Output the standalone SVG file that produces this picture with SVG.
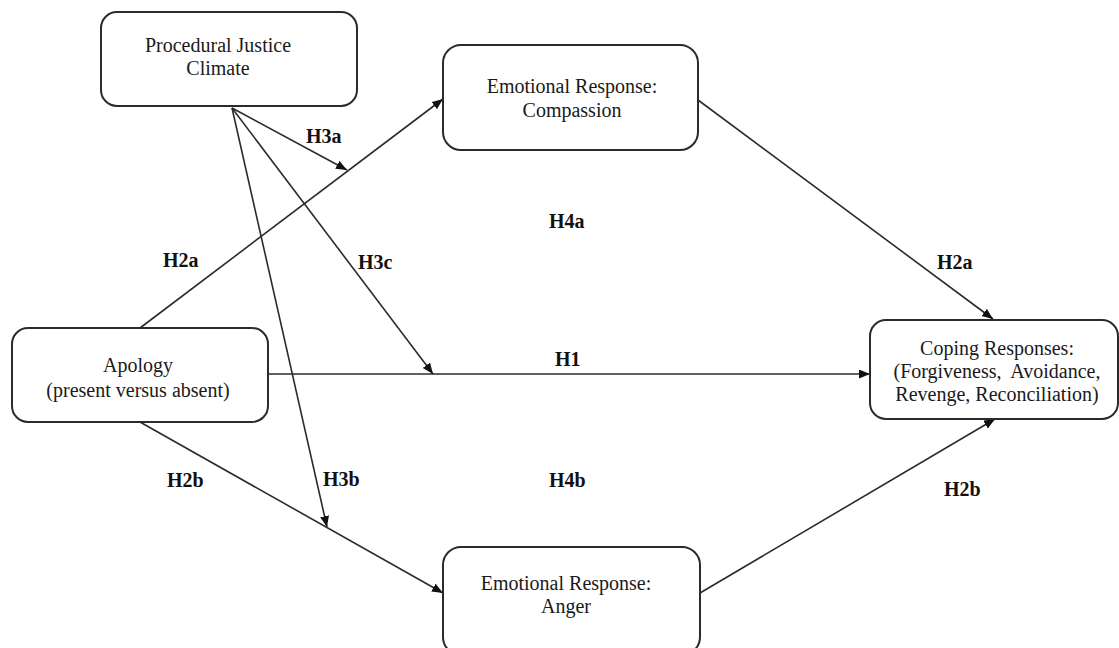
<svg xmlns="http://www.w3.org/2000/svg" width="1119" height="648" viewBox="0 0 1119 648">
<style>
.box{fill:#fff;stroke:#2b2b2b;stroke-width:2}
.t{font-family:"Liberation Serif","Times New Roman",serif;font-size:20px;fill:#1a1a1a;text-anchor:middle}
.h{font-family:"Liberation Serif","Times New Roman",serif;font-size:20px;font-weight:bold;fill:#111}
.e{stroke:#2b2b2b;stroke-width:1.6;fill:none;marker-end:url(#ah)}
</style>
<defs>
<marker id="ah" markerUnits="userSpaceOnUse" markerWidth="12" markerHeight="10" refX="11" refY="4.5" orient="auto">
<path d="M0,0 L11,4.5 L0,9 z" fill="#111"/>
</marker>
</defs>
<rect width="1119" height="648" fill="#fff"/>
<g id="connectors">
<path class="e" d="M140,328 L443,99"/>
<path class="e" d="M698,100 L993,319"/>
<path class="e" d="M268,374 L870,374"/>
<path class="e" d="M140,422 L443,593"/>
<path class="e" d="M700,593 L995,419"/>
<path class="e" d="M232,108 L347,170"/>
<path class="e" d="M232,108 L433,374"/>
<path class="e" d="M232,108 L327,527"/>
</g>
<g id="pjc">
<rect class="box" x="101" y="12" width="256" height="94" rx="16"/>
<text class="t" x="218" y="52">Procedural Justice</text>
<text class="t" x="218" y="75">Climate</text>
</g>
<g id="compassion">
<rect class="box" x="443" y="45" width="255" height="105" rx="18"/>
<text class="t" x="572" y="93">Emotional Response:</text>
<text class="t" x="572" y="117">Compassion</text>
</g>
<g id="apology">
<rect class="box" x="12" y="328" width="256" height="94" rx="16"/>
<text class="t" x="138" y="372">Apology</text>
<text class="t" x="138" y="397">(present versus absent)</text>
</g>
<g id="coping">
<rect class="box" x="870" y="320" width="248" height="99" rx="16"/>
<text class="t" x="997" y="355">Coping Responses:</text>
<text class="t" x="997" y="378" style="white-space:pre">(Forgiveness,  Avoidance,</text>
<text class="t" x="997" y="401">Revenge, Reconciliation)</text>
</g>
<g id="anger">
<rect class="box" x="443" y="547" width="257" height="108" rx="18"/>
<text class="t" x="566" y="590">Emotional Response:</text>
<text class="t" x="566" y="613">Anger</text>
</g>
<g id="labels">
<text class="h" x="306" y="143">H3a</text>
<text class="h" x="358" y="269">H3c</text>
<text class="h" x="323" y="486">H3b</text>
<text class="h" x="163" y="267">H2a</text>
<text class="h" x="549" y="228">H4a</text>
<text class="h" x="937" y="269">H2a</text>
<text class="h" x="555" y="366">H1</text>
<text class="h" x="167" y="487">H2b</text>
<text class="h" x="549" y="487">H4b</text>
<text class="h" x="944" y="496">H2b</text>
</g>
</svg>
